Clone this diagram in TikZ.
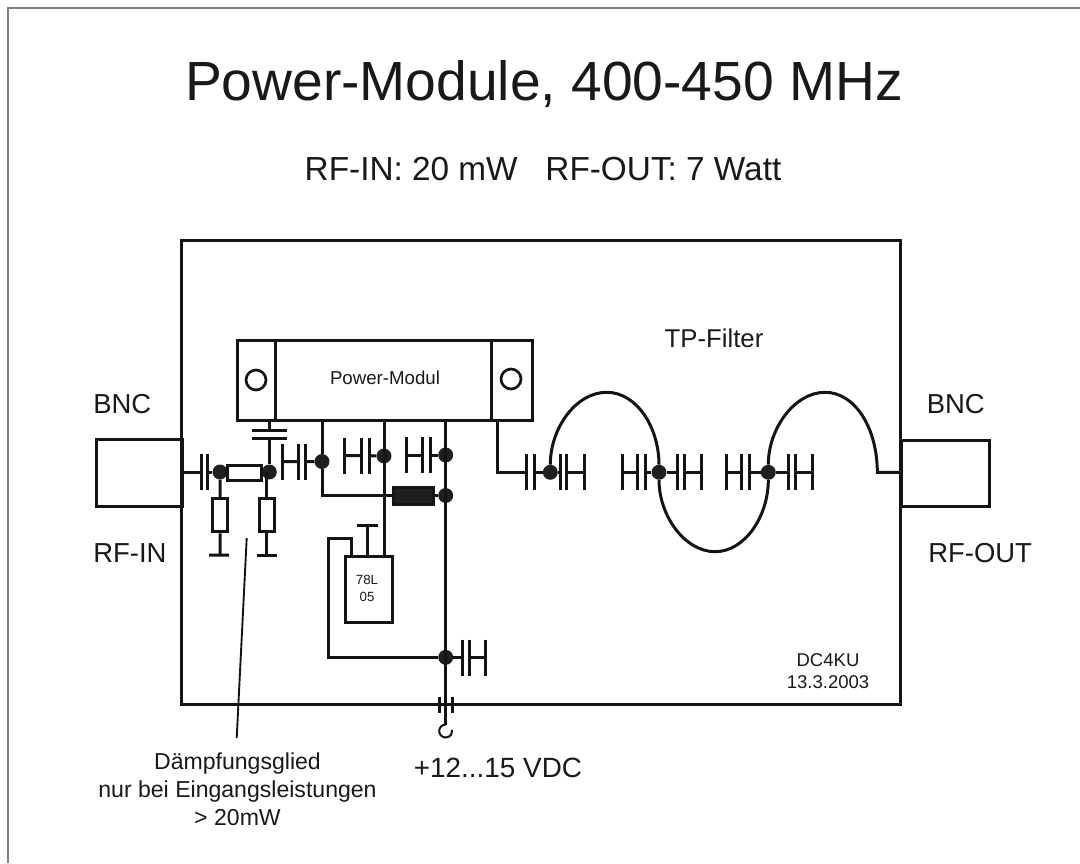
\documentclass[tikz,border=0pt]{standalone}
\usepackage{fontspec}
\setmainfont{Liberation Sans}
\tikzset{
  x=0.75pt,y=-0.75pt,
  wire/.style={line width=2.25pt,line cap=butt,line join=miter,black!92},
  dot/.style={circle,fill=black!88,draw=none,minimum size=11.2pt,inner sep=0pt},
  lab/.style={inner sep=0pt,text=black!90},
  box/.style={draw=black!92,line width=2.25pt,fill=white,inner sep=0pt},
  hole/.style={circle,draw=black!92,line width=2pt,minimum size=15pt,inner sep=0pt}
}
\newcommand{\tsz}[2]{\fontsize{#1}{#2}\selectfont}
% vertical plate at x=#1, centre y=#2, half height #3
\newcommand{\vplate}[3]{\draw[wire] (#1,#2-#3) -- (#1,#2+#3);}
\begin{document}
\begin{tikzpicture}
\useasboundingbox (0,0) rectangle (1080,863);
\fill[white] (0,0) rectangle (1080,863);
% page border
\coordinate (pbl) at (7.7,863); \coordinate (ptl) at (7.7,7.7); \coordinate (ptr) at (1080,7.7);
\draw[line width=1.4pt,black!50] (pbl) -- (ptl) -- (ptr);
% titles
\node[lab,anchor=base] (title) at (544,101) {\tsz{41.4}{48}Power-Module, 400-450 MHz};
\node[lab,anchor=base] (sub) at (543,180) {\tsz{25}{30}RF-IN: 20 mW\ \ \ RF-OUT: 7 Watt};
% BNC bodies and main box
\node[box,anchor=north west,minimum width=86*0.75pt,minimum height=67*0.75pt] (bncl) at (95,438) {};
\node[box,anchor=north west,minimum width=88*0.75pt,minimum height=66*0.75pt] (bncr) at (900,439) {};
\draw[wire] (181,240) rectangle (900,704);
\node[lab,anchor=base west] (bnca) at (93,413) {\tsz{20.6}{24}BNC};
\node[lab,anchor=base west] (rfin) at (93,562) {\tsz{20.6}{24}RF-IN};
\node[lab,anchor=base west] (bncb) at (926.5,413) {\tsz{20.6}{24}BNC};
\node[lab,anchor=base west] (rfout) at (928,562) {\tsz{20.6}{24}RF-OUT};
\node[lab,anchor=base] (tp) at (714,347) {\tsz{19.3}{24}TP-Filter};
\node[lab,anchor=base] (dca) at (828,666) {\tsz{13.9}{18}DC4KU};
\node[lab,anchor=base] (dcb) at (828,688) {\tsz{13.9}{18}13.3.2003};
\node[lab,anchor=base] (vdc) at (498,777) {\tsz{20.9}{24}+12...15 VDC};
\node[lab,anchor=base] (daempa) at (237.5,769) {\tsz{17.3}{21}Dämpfungsglied};
\node[lab,anchor=base] (daempb) at (237.5,797) {\tsz{17.3}{21}nur bei Eingangsleistungen};
\node[lab,anchor=base] (daempc) at (237.5,825) {\tsz{17.3}{21}> 20mW};
% module
\node[box,anchor=north west,minimum width=295*0.75pt,minimum height=80*0.75pt] (mod) at (236,339) {};
\coordinate (dl1) at (275.5,339); \coordinate (dl2) at (275.5,419);
\coordinate (dr1) at (491,339); \coordinate (dr2) at (491,419);
\draw[wire] (dl1) -- (dl2) (dr1) -- (dr2);
\node[hole] (hl) at (256,380) {};
\node[hole] (hr) at (511,379) {};
\node[lab] (pm) at (385,378) {\tsz{14}{16}Power-Modul};
% junctions
\node[dot] (j1) at (220,472) {};
\node[dot] (j2) at (269.3,472) {};
\node[dot] (j3) at (322,461.5) {};
\node[dot] (j4) at (384,456) {};
\node[dot] (j5) at (445.7,455) {};
\node[dot] (j6) at (445.7,495.5) {};
\node[dot] (j7) at (445.7,657.3) {};
\node[dot] (f1) at (550.3,472.3) {};
\node[dot] (f2) at (659,472.3) {};
\node[dot] (f3) at (768.3,472.3) {};
% input path
\coordinate (c1a) at (201,472); \coordinate (c1b) at (207.3,472);
\draw[wire] (bncl.east |- c1a) -- (c1a) (c1b) -- (j1);
\vplate{201}{472}{18}\vplate{207.3}{472}{18}
\node[box,minimum width=34*0.75pt,minimum height=15*0.75pt] (r1) at (244,472.5) {};
\draw[wire] (j1) -- (r1) (r1) -- (j2);
% shunt resistors
\node[box,minimum width=15*0.75pt,minimum height=33.5*0.75pt] (r2) at (220.2,515) {};
\node[box,minimum width=15*0.75pt,minimum height=33.5*0.75pt] (r3) at (266.7,515) {};
\coordinate (g2) at (220.2,555); \coordinate (g3) at (266.7,555);
\coordinate (g2a) at (209,555); \coordinate (g2b) at (229,555);
\coordinate (g3a) at (256.7,555); \coordinate (g3b) at (277,555);
\draw[wire] (j1) -- (r2) (r2) -- (g2) (g2a) -- (g2b);
\draw[wire] (r3 |- j2) -- (r3) (r3) -- (g3) (g3a) -- (g3b);
% cap to module
\coordinate (m0) at (269.3,419); \coordinate (cp1) at (269.3,430.7); \coordinate (cp2) at (269.3,438.3);
\draw[wire] (m0) -- (cp1) (251.7,430.7) -- (287,430.7) (251.7,438.3) -- (287,438.3) (cp2) -- (j2);
% cap j2-j3
\vplate{282.7}{461.7}{18}\vplate{298.3}{461.7}{18}\vplate{305.5}{461.7}{18}
\draw[wire] (282.7,461.7) -- (298.3,461.7) (305.5,461.7) -- (j3);
\coordinate (m3) at (322,419); \coordinate (b3) at (322,495.5);
\draw[wire] (m3) -- (j3) -- (b3);
\node[box,fill=black!88,minimum width=40*0.75pt,minimum height=17*0.75pt] (ch) at (413,495.5) {};
\draw[wire] (320.9,495.5) -- (ch) (ch) -- (j6);
% second
\vplate{344.3}{455.7}{18}\vplate{361.7}{455.7}{18}\vplate{369.3}{455.7}{18}
\draw[wire] (344.3,455.7) -- (361.7,455.7) (369.3,455.7) -- (j4);
\coordinate (m4) at (384,419); \coordinate (b4) at (384,555);
\draw[wire] (m4) -- (b4);
% third
\vplate{406}{455}{18}\vplate{422.7}{455}{18}\vplate{430}{455}{18}
\draw[wire] (406,455) -- (422.7,455) (430,455) -- (j5);
\coordinate (m5) at (445.7,419);
\coordinate (b5) at (445.7,724.5);
\draw[wire] (m5) -- (b5);
% regulator
\node[box,anchor=north west,minimum width=46.5*0.75pt,minimum height=66*0.75pt] (reg) at (344.3,555) {};
\node[lab,anchor=base] (rega) at (367,584) {\tsz{10}{12}78L};
\node[lab,anchor=base] (regb) at (367,601) {\tsz{10}{12}05};
\coordinate (gt) at (367.7,525);
\draw[wire] (gt) -- (367.7,555) (356.7,525) -- (378,525);
\draw[wire] (351,555) -- (351,538) -- (328.3,538) -- (328.3,657.3) -- (j7);
% cap right of j7
\draw[wire] (j7) -- (462.3,657.3) (469,657.3) -- (485,657.3);
\vplate{462.3}{657.5}{18}\vplate{469}{657.5}{18}\vplate{485}{657.5}{18}
% feed-through
\vplate{439.3}{704.5}{8}\vplate{452.3}{704.5}{8}
\draw[line width=1.5pt,black!92] (b5) arc[start angle=270,end angle=-10,radius=6.5];
% output of module to filter
\coordinate (o1) at (497.7,419); \coordinate (o2) at (497.7,472.3);
\draw[wire] (o1) -- (o2) -- (526.7,472.3);
\vplate{526.7}{472.3}{18}\vplate{534.3}{472.3}{18}
\draw[wire] (534.3,472.3) -- (f1) -- (560,472.3);
\vplate{560}{472.3}{18}\vplate{566.7}{472.3}{18}\vplate{584}{472.3}{18}
\draw[wire] (566.7,472.3) -- (584,472.3);
% f2
\vplate{622.3}{472.3}{18}\vplate{637.7}{472.3}{18}\vplate{645}{472.3}{18}
\draw[wire] (622.3,472.3) -- (637.7,472.3) (645,472.3) -- (f2) -- (677.3,472.3);
\vplate{677.3}{472.3}{18}\vplate{684}{472.3}{18}\vplate{701.3}{472.3}{18}
\draw[wire] (684,472.3) -- (701.3,472.3);
% f3
\vplate{726.7}{472.3}{18}\vplate{741.7}{472.3}{18}\vplate{749}{472.3}{18}
\draw[wire] (726.7,472.3) -- (741.7,472.3) (749,472.3) -- (f3) -- (788.3,472.3);
\vplate{788.3}{472.3}{18}\vplate{795}{472.3}{18}\vplate{812.3}{472.3}{18}
\draw[wire] (795,472.3) -- (812.3,472.3);
% TP lines
\coordinate (a0) at (877.3,472.3);
\draw[wire] (f1) .. controls (550.3,428) and (576,392.3) .. (606.7,392.3) .. controls (637,392.3) and (659,428) .. (f2);
\draw[wire] (f2) .. controls (659,516) and (685,551.7) .. (715,551.7) .. controls (745,551.7) and (768.3,516) .. (f3);
\draw[wire] (f3) .. controls (768.3,428) and (795,392.3) .. (825,392.3) .. controls (855,392.3) and (877.3,428) .. (a0) -- (900,472.3);
% leader
\coordinate (l1) at (246.7,538); \coordinate (l2) at (236.7,738);
\draw[line width=1.4pt,black!92] (l1) -- (l2);
\end{tikzpicture}
\end{document}
